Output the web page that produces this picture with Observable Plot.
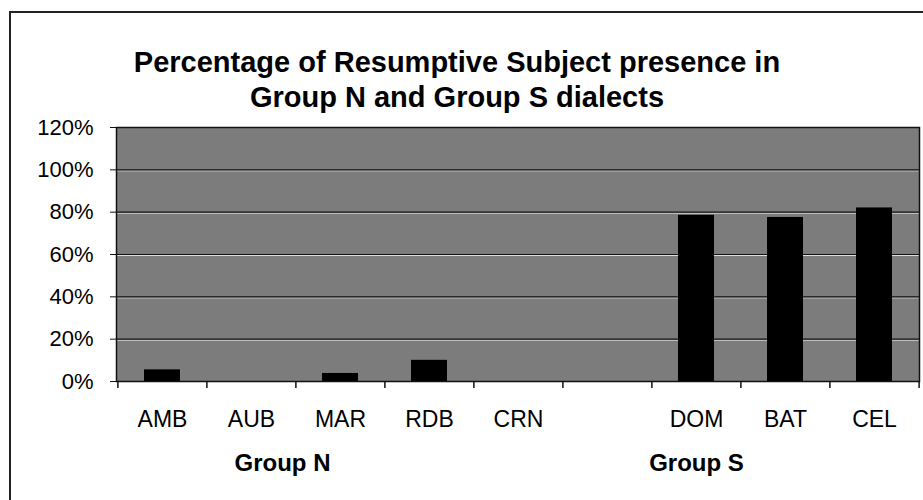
<!DOCTYPE html>
<html>
<head>
<meta charset="utf-8">
<script src="https://cdn.jsdelivr.net/npm/d3@7"></script>
<script src="https://cdn.jsdelivr.net/npm/@observablehq/plot@0.6"></script>
<style>
  html, body { margin: 0; padding: 0; background: #fff; }
  #wrap { position: relative; width: 923px; height: 500px; overflow: hidden; font-family: "Liberation Sans", Arial, sans-serif; }
  #frame { position: absolute; left: 9px; top: 11px; width: 1000px; height: 600px; border-left: 2px solid #222; border-top: 2px solid #222; }
  #title { position: absolute; left: 0; top: 45px; width: 914px; text-align: center; font-weight: bold; font-size: 29px; line-height: 35px; color: #000; }
  #chart { position: absolute; left: 0; top: 0; }
</style>
</head>
<body>
<div id="wrap">
  <div id="frame"></div>
  <div id="chart"></div>
  <div id="title">Percentage of Resumptive Subject presence in<br>Group N and Group S dialects</div>
</div>
<script>
// Data
const categories = ["AMB", "AUB", "MAR", "RDB", "CRN", "", "DOM", "BAT", "CEL"];
const values = [5.5, 0, 3.8, 10, 0, null, 78.5, 77.5, 82];
const yTicks = [0, 20, 40, 60, 80, 100, 120];
const groupNames = ["Group N", "Group S"];
const groupAnchors = ["AUB", "DOM"];
const groupShift = [31, 0];

const data = categories.map((c, i) => ({cat: c, v: values[i]})).filter(d => d.v != null);
const groups = groupNames.map((g, i) => ({label: g, at: groupAnchors[i], shift: groupShift[i]}));

const W = 923, H = 500, ML = 116, MR = 4, MT = 127, MB = 119;
const step = (W - ML - MR) / categories.length;

const chart = Plot.plot({
  width: W,
  height: H,
  marginLeft: ML,
  marginRight: MR,
  marginTop: MT,
  marginBottom: MB,
  style: {fontFamily: "'Liberation Sans', Arial, sans-serif", fontSize: "22px", color: "#000", background: "transparent"},
  x: {domain: categories, paddingInner: 0.6, paddingOuter: 0.3, label: null},
  y: {domain: [0, 120], label: null},
  marks: [
    Plot.frame({fill: "#7c7c7c"}),
    Plot.ruleY(yTicks.filter(t => t > 0 && t < 120), {stroke: "#e0e0e0", strokeWidth: 1, dy: 1}),
    Plot.ruleY(yTicks.filter(t => t > 0 && t < 120), {stroke: "#111", strokeWidth: 1.2}),
    Plot.barY(data, {x: "cat", y: "v", fill: "#000"}),
    Plot.frame({stroke: "#111", strokeWidth: 1.5}),
    Plot.axisY({ticks: yTicks, tickFormat: d => d + "%", tickSize: 6, tickPadding: 17, fontSize: 22, stroke: "#111"}),
    Plot.axisX({tickSize: 0, tickPadding: 29, fontSize: 23}),
    Plot.ruleX(categories, {x: d => d, dx: -step / 2, y1: 0, y2: -3.3, stroke: "#111", strokeWidth: 1.5}),
    Plot.ruleX(categories.slice(-1), {x: d => d, dx: step / 2, y1: 0, y2: -3.3, stroke: "#111", strokeWidth: 1.5}),
    ...groups.map(g => Plot.text([g], {x: "at", text: "label", frameAnchor: "bottom", dx: g.shift, dy: 89, fontWeight: "bold", fontSize: 24, fill: "#000"}))
  ]
});
document.getElementById("chart").appendChild(chart);
</script>
</body>
</html>
